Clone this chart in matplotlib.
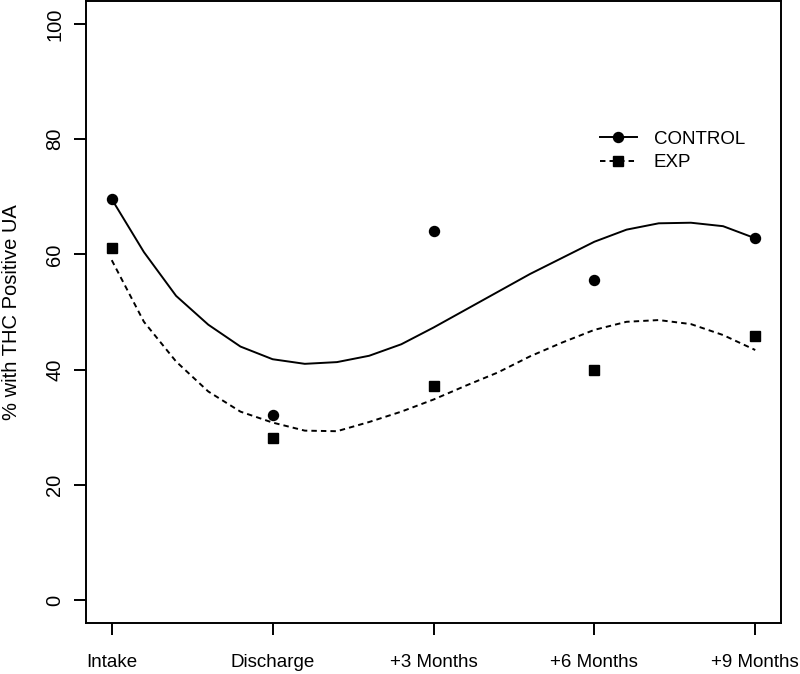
import matplotlib
matplotlib.use("Agg")
import matplotlib.pyplot as plt
import numpy as np

plt.rcParams['font.family'] = ['Liberation Sans', 'DejaVu Sans']

# time points
visits = ["Intake", "Discharge", "+3 Months", "+6 Months", "+9 Months"]

# observed % positive
control_pts = [69.6, 32.1, 64.0, 55.6, 62.8]
exp_pts = [61.1, 28.1, 37.1, 39.9, 45.8]

# fitted curves, every 0.2 visit units
fit_x = [0.0, 0.2, 0.4, 0.6, 0.8, 1.0, 1.2, 1.4, 1.6, 1.8, 2.0,
         2.2, 2.4, 2.6, 2.8, 3.0, 3.2, 3.4, 3.6, 3.8, 4.0]
control_fit = [69.6, 60.4, 52.8, 47.8, 44.0, 41.8, 41.0, 41.3, 42.4, 44.4, 47.3,
               50.4, 53.5, 56.6, 59.4, 62.2, 64.3, 65.4, 65.5, 64.9, 62.8]
exp_fit = [59.0, 48.3, 41.4, 36.2, 32.7, 30.8, 29.4, 29.3, 30.9, 32.7, 34.8,
           37.2, 39.5, 42.3, 44.7, 46.9, 48.3, 48.6, 47.9, 46.0, 43.4]

fs = 13.5   # horizontal text
fs_v = 14.5  # rotated text
fig = plt.figure(figsize=(8, 6.74), dpi=100)
ax = fig.add_axes([86/800, 51/674, 695/800, 622/674])

x = np.arange(len(visits))
lw = 1.4

# curves
ax.plot(fit_x, control_fit, color='black', lw=lw, solid_joinstyle='round')
ax.plot(fit_x, exp_fit, color='black', lw=lw, dashes=(2.8, 2.1))

# points
ax.plot(x, control_pts, 'o', color='black', ms=7.2, zorder=3)
ax.plot(x, exp_pts, 's', color='black', ms=7, zorder=3)

# legend handles
h1, = ax.plot([], [], color='black', lw=lw, marker='o', ms=7.2)
h2, = ax.plot([], [], color='black', lw=lw, dashes=(2.8, 2.1), marker='s', ms=7)
leg = ax.legend([h1, h2], ["CONTROL", "EXP"], loc='upper left',
                bbox_to_anchor=(0.739, 0.792), frameon=False, fontsize=fs,
                handlelength=2.0, handletextpad=0.9, labelspacing=0.35,
                borderpad=0, borderaxespad=0)

ax.set_xlim(-0.16, 4.16)
ax.set_ylim(-4, 104)
ax.set_xticks(x)
ax.set_xticklabels(visits, fontsize=fs)
ax.set_yticks([0, 20, 40, 60, 80, 100])
ax.set_yticklabels(['0', '20', '40', '60', '80', '100'], fontsize=fs_v,
                   rotation=90, va='center')
ax.tick_params(axis='both', length=8.5, width=lw, color='black')
ax.tick_params(axis='x', pad=14)
ax.tick_params(axis='y', pad=7)
for s in ax.spines.values():
    s.set_linewidth(lw)

ax.set_ylabel("% with THC Positive UA", fontsize=fs_v)
ax.yaxis.set_label_coords(-0.094, 0.5)

fig.savefig("out.png", dpi=100)
